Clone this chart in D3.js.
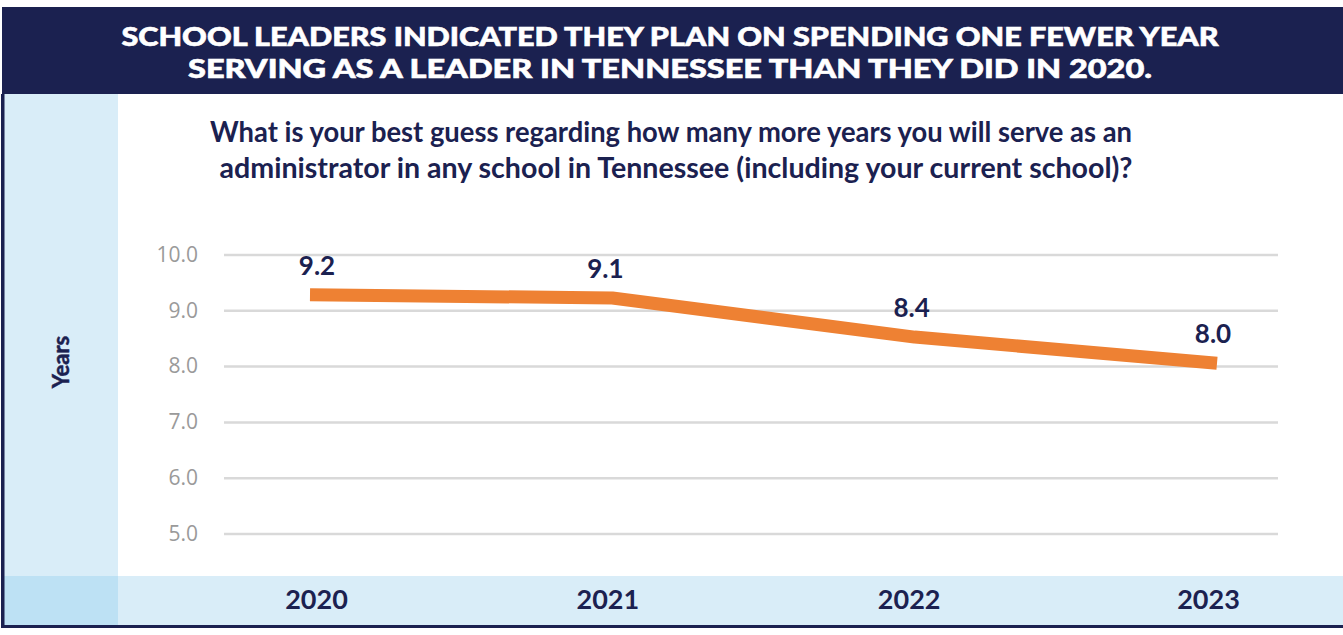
<!DOCTYPE html>
<html>
<head>
<meta charset="utf-8">
<script src="https://cdn.jsdelivr.net/npm/d3@7"></script>
<style>
  body { margin: 0; background: #fff; }
  svg { display: block; font-family: Lato, "Open Sans", sans-serif; }
</style>
</head>
<body>
<div id="chart"></div>
<script>
// data
const years = ["2020", "2021", "2022", "2023"];
const plotted = [9.28, 9.22, 8.52, 8.05];      // where the line sits
const valueLabels = ["9.2", "9.1", "8.4", "8.0"]; // what the chart prints
const yTicks = [5, 6, 7, 8, 9, 10];
const titleLines = [
  "SCHOOL LEADERS INDICATED THEY PLAN ON SPENDING ONE FEWER YEAR",
  "SERVING AS A LEADER IN TENNESSEE THAN THEY DID IN 2020."
];
const questionLines = [
  "What is your best guess regarding how many more years you will serve as an",
  "administrator in any school in Tennessee (including your current school)?"
];

const navy = "#1b2150", orange = "#ee8133";
const width = 1343, height = 635;

const svg = d3.select("#chart").append("svg")
    .attr("width", width)
    .attr("height", height);

// header band
svg.append("rect").attr("x", 2).attr("y", 7).attr("width", width - 2).attr("height", 87).attr("fill", navy);
const titleW = [1097, 964];
svg.append("g").selectAll("text")
    .data(titleLines).enter()
    .append("text")
    .attr("x", 670)
    .attr("y", (d, i) => 46 + i * 32)
    .attr("text-anchor", "middle")
    .attr("fill", "#fff")
    .attr("stroke", "#fff")
    .attr("stroke-width", 0.6)
    .attr("font-size", 26)
    .attr("font-weight", 900)
    .attr("textLength", (d, i) => titleW[i])
    .attr("lengthAdjust", "spacingAndGlyphs")
    .text(d => d);

// side panel + bottom band
svg.append("rect").attr("x", 4).attr("y", 94).attr("width", 114).attr("height", 482).attr("fill", "#d9edf8");
svg.append("rect").attr("x", 118).attr("y", 576).attr("width", width - 118).attr("height", 50).attr("fill", "#d9edf8");
svg.append("rect").attr("x", 4).attr("y", 576).attr("width", 114).attr("height", 50).attr("fill", "#bde1f4");
svg.append("rect").attr("x", 1).attr("y", 94).attr("width", 3.5).attr("height", 534).attr("fill", navy);
svg.append("rect").attr("x", 1).attr("y", 625).attr("width", width - 1).attr("height", 3).attr("fill", navy);

// question
const qW = [922, 913];
svg.append("g").selectAll("text")
    .data(questionLines).enter()
    .append("text")
    .attr("x", (d, i) => i === 0 ? 671 : 676)
    .attr("y", (d, i) => 142 + i * 36)
    .attr("text-anchor", "middle")
    .attr("fill", navy)
    .attr("font-size", 29)
    .attr("font-weight", 700)
    .attr("textLength", (d, i) => qW[i])
    .attr("lengthAdjust", "spacingAndGlyphs")
    .text(d => d);

// y axis title
svg.append("text")
    .attr("transform", "translate(69,362) rotate(-90)")
    .attr("text-anchor", "middle")
    .attr("fill", navy)
    .attr("stroke", navy)
    .attr("stroke-width", 0.5)
    .attr("font-size", 22)
    .attr("font-weight", 700)
    .text("Years");

// scales
const x = d3.scalePoint().domain(years).range([310, 1217]);
const y = d3.scaleLinear().domain([5, 10]).range([533.5, 254.5]);

// grid + tick labels
const yAxis = d3.axisLeft(y)
    .tickValues(yTicks)
    .tickFormat(d3.format(".1f"))
    .tickSize(-(1278 - 224))
    .tickPadding(26);
const ga = svg.append("g").attr("transform", "translate(224,0)").call(yAxis);
ga.select(".domain").remove();
ga.selectAll(".tick line").attr("stroke", "#d9d9d9").attr("stroke-width", 2.5);
ga.selectAll(".tick text")
    .attr("fill", "#9a9a9a")
    .attr("font-size", 21)
    .attr("font-family", "'Open Sans', Lato, sans-serif");

// the line
const line = d3.line()
    .x((d, i) => x(years[i]))
    .y(d => y(d));
svg.append("path")
    .datum(plotted)
    .attr("d", line)
    .attr("fill", "none")
    .attr("stroke", orange)
    .attr("stroke-width", 13)
    .attr("stroke-linejoin", "round")
    .attr("stroke-linecap", "butt");

// value labels
svg.append("g").selectAll("text")
    .data(valueLabels).enter()
    .append("text")
    .attr("x", (d, i) => x(years[i]) + [7, -7, -3, -4][i])
    .attr("y", (d, i) => y(plotted[i]) - 20)
    .attr("text-anchor", "middle")
    .attr("fill", navy)
    .attr("font-size", 26)
    .attr("font-weight", 700)
    .text(d => d);

// year labels in the bottom band
const xAxis = d3.axisBottom(x).tickSize(0).tickPadding(0);
const gx = svg.append("g").attr("transform", "translate(0,590)").call(xAxis);
gx.select(".domain").remove();
gx.selectAll(".tick text")
    .attr("dy", "0.72em")
    .attr("dx", (d, i) => [6, -5, -6, -9][i])
    .attr("fill", navy)
    .attr("font-size", 27)
    .attr("font-weight", 700)
    .attr("font-family", "Lato, sans-serif");
</script>
</body>
</html>
